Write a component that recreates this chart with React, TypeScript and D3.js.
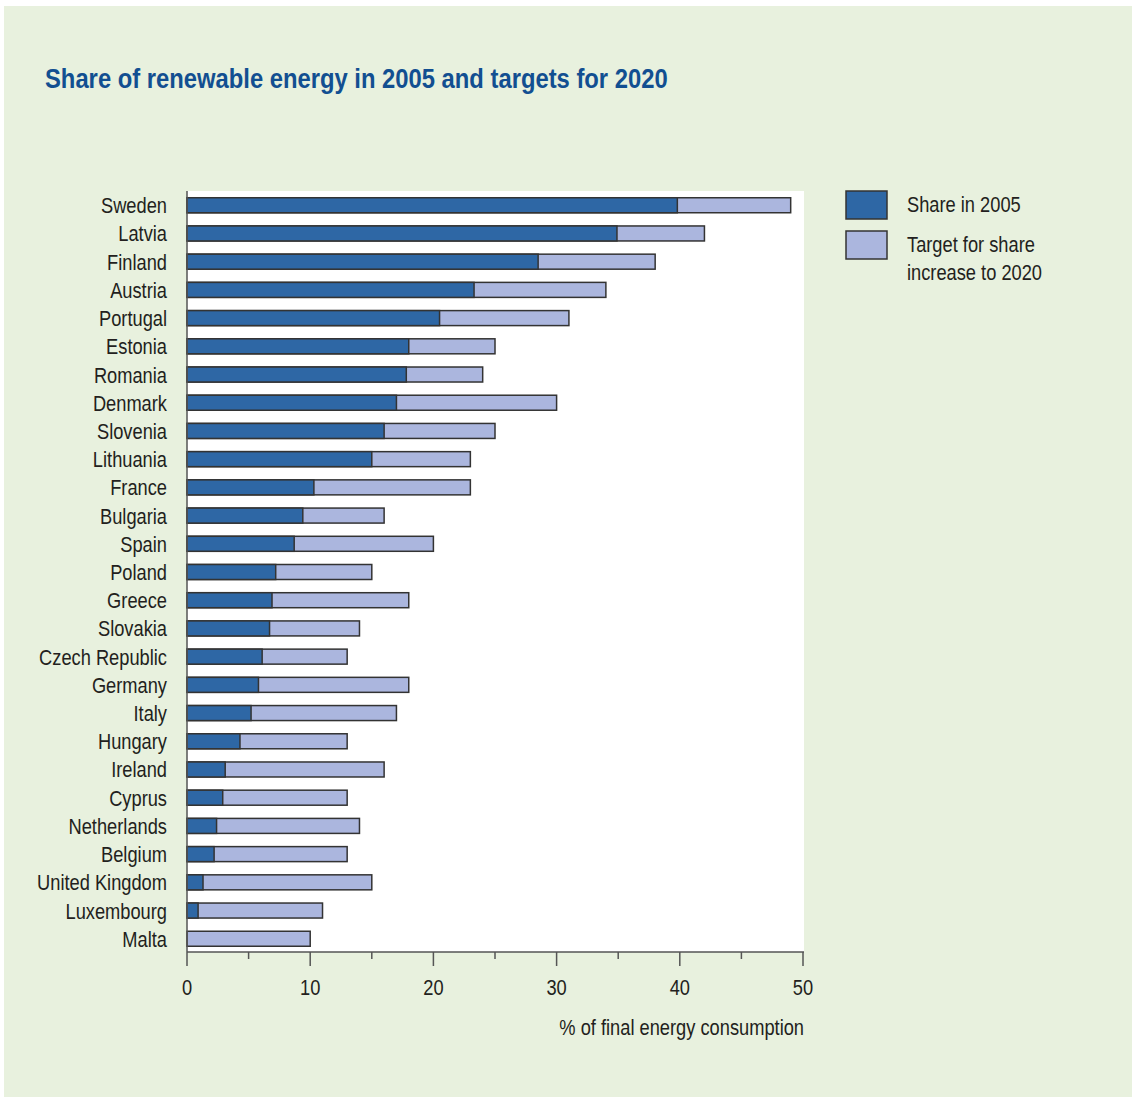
import React from "react";
import * as d3 from "d3";

const countries = ["Sweden","Latvia","Finland","Austria","Portugal","Estonia","Romania","Denmark","Slovenia","Lithuania","France","Bulgaria","Spain","Poland","Greece","Slovakia","Czech Republic","Germany","Italy","Hungary","Ireland","Cyprus","Netherlands","Belgium","United Kingdom","Luxembourg","Malta"];
const share2005 = [39.8,34.9,28.5,23.3,20.5,18.0,17.8,17.0,16.0,15.0,10.3,9.4,8.7,7.2,6.9,6.7,6.1,5.8,5.2,4.3,3.1,2.9,2.4,2.2,1.3,0.9,0];
const target2020 = [49,42,38,34,31,25,24,30,25,23,23,16,20,15,18,14,13,18,17,13,16,13,14,13,15,11,10];
const xTicks = [0,10,20,30,40,50];
const xMinorTicks = [5,15,25,35,45];
const legendItems = [
  { lines: ["Share in 2005"], color: "#2e67a5" },
  { lines: ["Target for share", "increase to 2020"], color: "#abb6de" },
];

const FONT = "'Liberation Sans', Arial, sans-serif";
const SX = 0.85;

function NText(props: { x: number; y: number; anchor?: string; size: number; fill?: string; bold?: boolean; children: React.ReactNode }) {
  const { x, y, anchor = "start", size, fill = "#231f20", bold = false, children } = props;
  return (
    <text transform={`translate(${x},${y}) scale(${SX},1)`} textAnchor={anchor} fontSize={size} fill={fill} fontWeight={bold ? "bold" : "normal"}>
      {children}
    </text>
  );
}

export default function App() {
  const W = 1132, H = 1097;
  const left = 187, right = 804, top = 191, bottom = 952;
  const x = d3.scaleLinear().domain([0, 50]).range([left, 803]);
  const y = d3.scaleBand().domain(countries).range([191, 953]).paddingInner(0.47).paddingOuter(0.24);
  const bh = 15;
  return (
    <svg width={W} height={H} style={{ position: "absolute", left: 0, top: 0 }} fontFamily={FONT}>
      <rect x={0} y={0} width={W} height={H} fill="#ffffff" />
      <rect x={4} y={6} width={W - 4} height={H - 6} fill="#e8f1de" />
      <NText x={45} y={88} fill="#124f91" size={28} bold>Share of renewable energy in 2005 and targets for 2020</NText>
      <rect x={left} y={top} width={right - left} height={bottom - top} fill="#ffffff" />
      {countries.map((c, i) => {
        const cy = (y(c) as number) + y.bandwidth() / 2;
        return (
          <g key={c}>
            <rect x={x(0)} y={cy - bh / 2} width={x(target2020[i]) - x(0)} height={bh} fill="#abb6de" stroke="#333333" strokeWidth={1.5} />
            {share2005[i] > 0 && (
              <rect x={x(0)} y={cy - bh / 2} width={x(share2005[i]) - x(0)} height={bh} fill="#2e67a5" stroke="#333333" strokeWidth={1.5} />
            )}
            <NText x={167} y={cy + 8} anchor="end" size={21.5}>{c}</NText>
          </g>
        );
      })}
      <line x1={left} x2={left} y1={top} y2={bottom} stroke="#555555" strokeWidth={1.5} />
      <line x1={left} x2={right} y1={bottom} y2={bottom} stroke="#555555" strokeWidth={1.5} />
      {xTicks.map((t) => (
        <g key={t}>
          <line x1={x(t)} x2={x(t)} y1={bottom} y2={bottom + 14} stroke="#555555" strokeWidth={1.5} />
          <NText x={x(t)} y={995} anchor="middle" size={21.5}>{t}</NText>
        </g>
      ))}
      {xMinorTicks.map((t) => (
        <line key={t} x1={x(t)} x2={x(t)} y1={bottom} y2={bottom + 7} stroke="#555555" strokeWidth={1.5} />
      ))}
      <NText x={804} y={1035} anchor="end" size={21.5}>% of final energy consumption</NText>
      {legendItems.map((it, i) => (
        <g key={i}>
          <rect x={846} y={191 + i * 40} width={41} height={28} fill={it.color} stroke="#333333" strokeWidth={1.5} />
          {it.lines.map((ln, j) => (
            <NText key={j} x={907} y={212 + i * 40 + j * 28} size={21.5}>{ln}</NText>
          ))}
        </g>
      ))}
    </svg>
  );
}
